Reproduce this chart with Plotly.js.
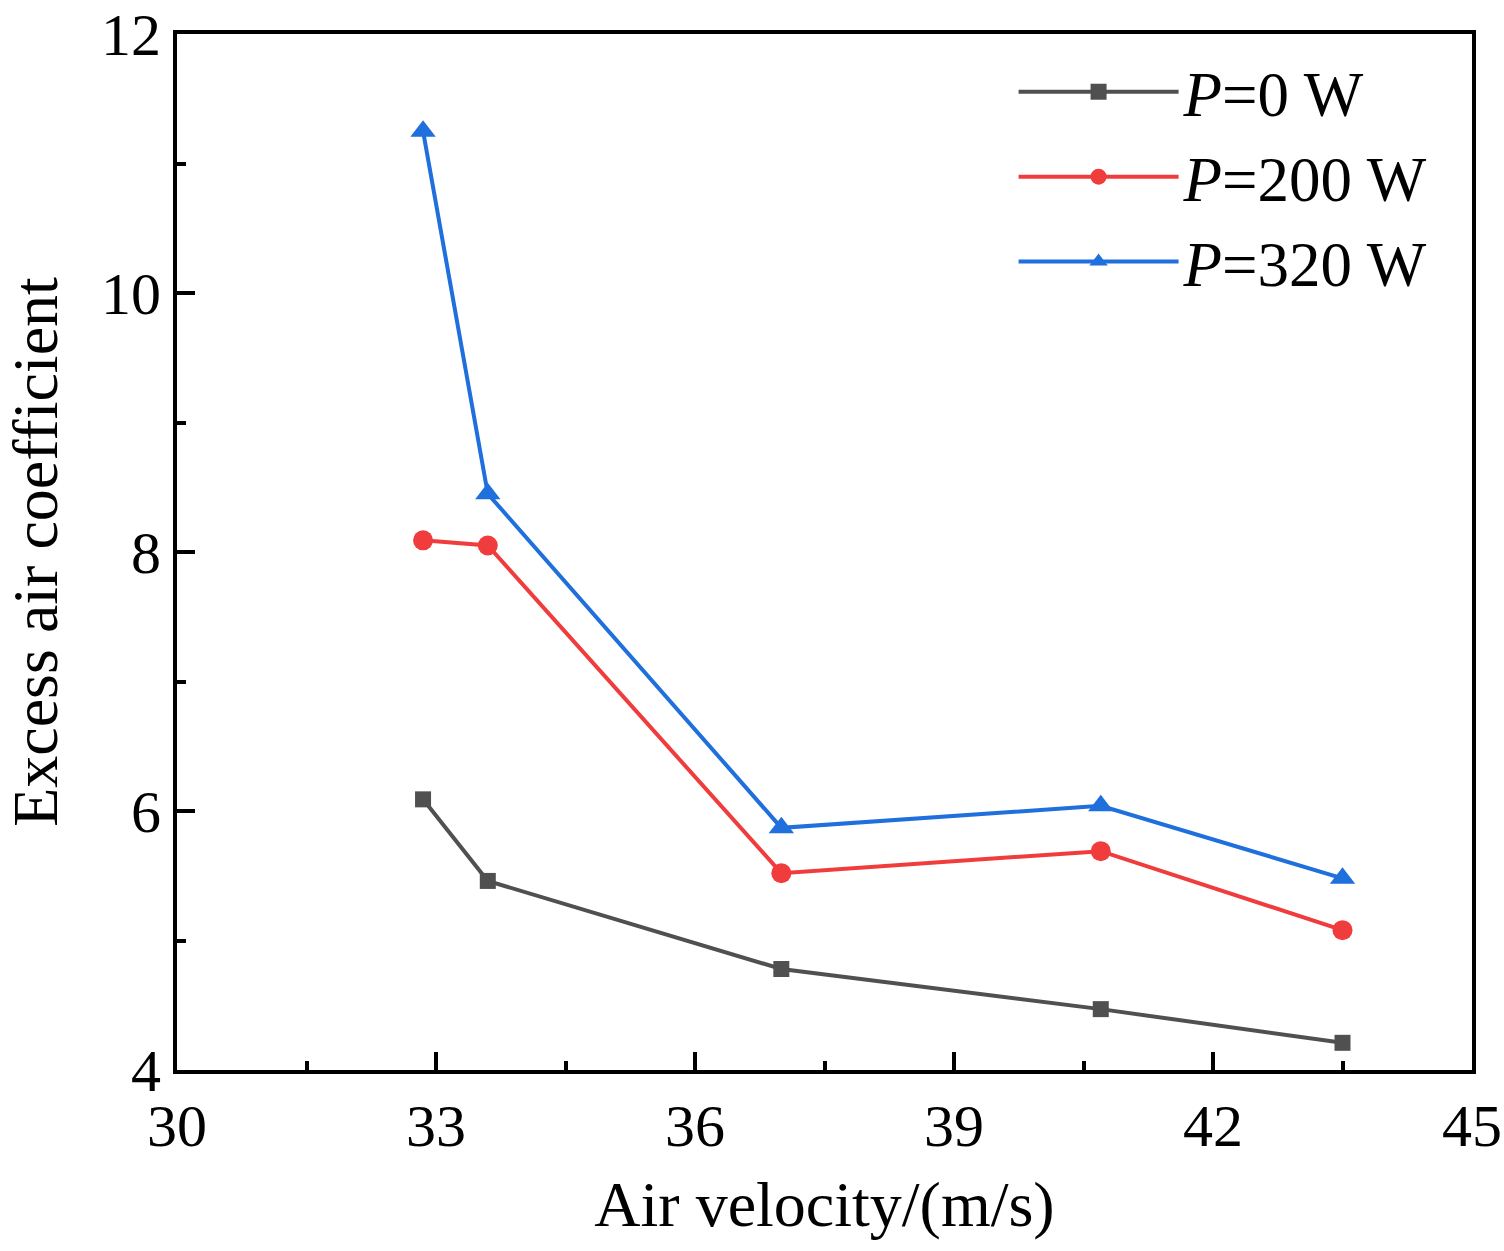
<!DOCTYPE html>
<html>
<head>
<meta charset="utf-8">
<script src="https://cdn.plot.ly/plotly-3.0.1.min.js"></script>
<style>
  html, body { margin: 0; padding: 0; background: #fff; }
  #chart { width: 1504px; height: 1251px; }
</style>
</head>
<body>
<div id="chart"></div>
<script>
// Air velocity (m/s)
const velocity = [32.85, 33.6, 37.0, 40.7, 43.5];

// Excess air coefficient per heating power
const p0 = [6.09, 5.46, 4.78, 4.47, 4.21];
const p200 = [8.09, 8.05, 5.52, 5.69, 5.08];
const p320 = [11.25, 8.45, 5.87, 6.04, 5.48];

const seriesNames = ['<i>P</i>=0 W', '<i>P</i>=200 W', '<i>P</i>=320 W'];
const seriesColors = ['#505050', '#f03c3c', '#1f6fdc'];

const FONT = 'Liberation Serif, Times New Roman, serif';

function makeTrace(y, i, symbol, size) {
  return {
    type: 'scatter',
    mode: 'lines+markers',
    x: velocity,
    y: y,
    name: seriesNames[i],
    line: { color: seriesColors[i], width: 4 },
    marker: { color: seriesColors[i], symbol: symbol, size: size }
  };
}

const data = [
  makeTrace(p0, 0, 'square', 16),
  makeTrace(p200, 1, 'circle', 20),
  makeTrace(p320, 2, 'triangle-up', 22)
];

const axisCommon = {
  showline: true,
  linecolor: '#000',
  linewidth: 4,
  mirror: true,
  showgrid: false,
  zeroline: false,
  ticks: 'inside',
  ticklen: 18,
  tickwidth: 4,
  tickcolor: '#000',
  ticklabeloverflow: 'allow',
  tickfont: { family: FONT, size: 60, color: '#000' }
};

const layout = {
  width: 1504,
  height: 1251,
  margin: { l: 177, r: 32, t: 34, b: 181 },
  paper_bgcolor: '#fff',
  plot_bgcolor: '#fff',
  showlegend: true,
  legend: {
    x: 0.646,
    y: 0.99,
    xanchor: 'left',
    yanchor: 'top',
    bgcolor: 'rgba(0,0,0,0)',
    font: { family: FONT, size: 63, color: '#000' },
    itemwidth: 160,
    tracegroupgap: 0
  },
  xaxis: Object.assign({}, axisCommon, {
    range: [30, 45],
    tick0: 30,
    dtick: 3,
    minor: { dtick: 1.5, ticks: 'inside', ticklen: 9, tickwidth: 4, tickcolor: '#000' },
    title: { text: 'Air velocity/(m/s)', font: { family: FONT, size: 64, color: '#000' }, standoff: 24 }
  }),
  yaxis: Object.assign({}, axisCommon, {
    range: [4, 12],
    tick0: 4,
    dtick: 2,
    minor: { dtick: 1, ticks: 'inside', ticklen: 9, tickwidth: 4, tickcolor: '#000' },
    title: { text: 'Excess air coefficient', font: { family: FONT, size: 64, color: '#000' }, standoff: 30 }
  })
};

Plotly.newPlot('chart', data, layout, { staticPlot: true });
</script>
</body>
</html>
